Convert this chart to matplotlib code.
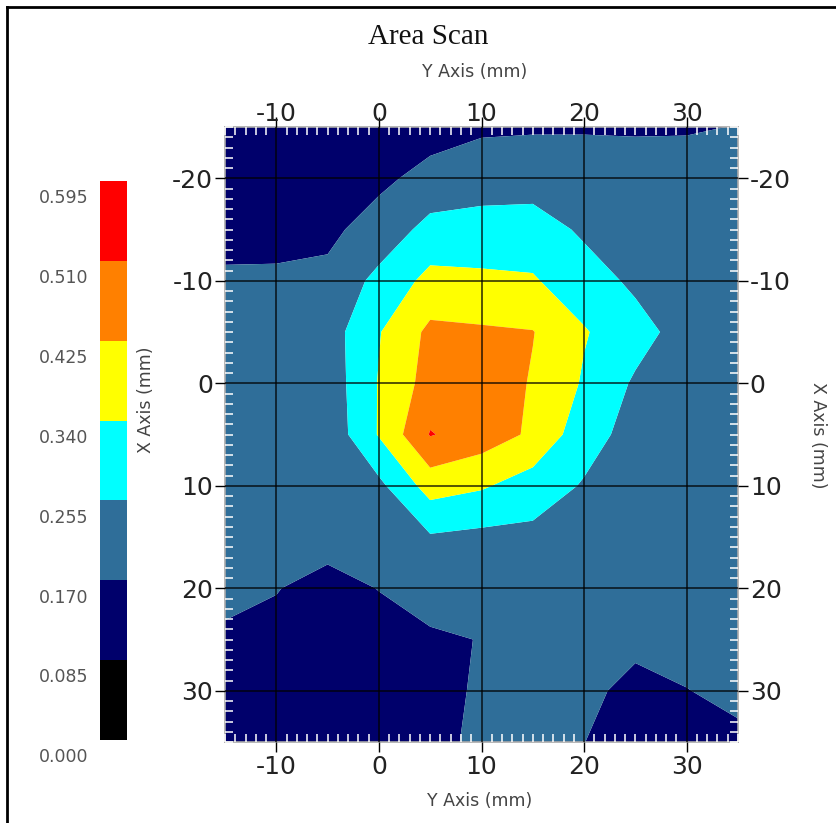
import numpy as np
import matplotlib

matplotlib.use("Agg")
import matplotlib.pyplot as plt
import matplotlib.transforms as mtransforms
from matplotlib.lines import Line2D
from matplotlib.ticker import MultipleLocator

plt.rcParams["axes.unicode_minus"] = False

# scan grid (mm); "Y Axis" runs horizontally, "X Axis" vertically
y_axis_mm = [-15, -10, -5, 0, 5, 10, 15, 20, 25, 30, 35]
x_axis_mm = [-25, -20, -15, -10, -5, 0, 5, 10, 15, 20, 25, 30, 35]

# measured values, one list per X Axis row
z_xm25 = [0.120, 0.120, 0.130, 0.130, 0.141, 0.162, 0.163, 0.163, 0.163, 0.164, 0.172]
z_xm20 = [0.130, 0.130, 0.140, 0.155, 0.1925, 0.200, 0.210, 0.210, 0.200, 0.200, 0.190]
z_xm15 = [0.150, 0.150, 0.155, 0.199, 0.284, 0.302, 0.300, 0.240, 0.215, 0.200, 0.190]
z_xm10 = [0.179, 0.180, 0.186, 0.280, 0.364, 0.352, 0.347, 0.298, 0.237, 0.210, 0.200]
z_xm05 = [0.190, 0.195, 0.214, 0.335, 0.444, 0.437, 0.428, 0.346, 0.290, 0.217, 0.200]
z_x00 = [0.185, 0.190, 0.204, 0.345, 0.459, 0.480, 0.4175, 0.331, 0.243, 0.220, 0.200]
z_x05 = [0.185, 0.190, 0.194, 0.346, 0.515, 0.470, 0.411, 0.289, 0.224, 0.210, 0.200]
z_x10 = [0.185, 0.190, 0.200, 0.235, 0.376, 0.350, 0.300, 0.248, 0.210, 0.200, 0.200]
z_x15 = [0.185, 0.190, 0.200, 0.210, 0.247, 0.234, 0.234, 0.220, 0.200, 0.200, 0.200]
z_x20 = [0.190, 0.173, 0.144, 0.172, 0.200, 0.200, 0.210, 0.210, 0.200, 0.200, 0.200]
z_x25 = [0.158, 0.150, 0.130, 0.140, 0.160, 0.172, 0.200, 0.200, 0.190, 0.200, 0.200]
z_x30 = [0.140, 0.130, 0.120, 0.140, 0.140, 0.182, 0.190, 0.190, 0.1465, 0.168, 0.190]
z_x35 = [0.130, 0.120, 0.120, 0.140, 0.140, 0.192, 0.185, 0.171, 0.130, 0.140, 0.153]

levels = [0.000, 0.085, 0.170, 0.255, 0.340, 0.425, 0.510, 0.595]
colors = ["#000000", "#00006b", "#2f6e99", "#00ffff", "#ffff00", "#ff8000", "#ff0000"]

Z = np.array([z_xm25, z_xm20, z_xm15, z_xm10, z_xm05, z_x00, z_x05,
              z_x10, z_x15, z_x20, z_x25, z_x30, z_x35])

fig = plt.figure(figsize=(8.37, 8.23), dpi=100)
W, H = 837.0, 823.0

# outer frame (only left/top edges visible in the crop)
fig.add_artist(Line2D([7 / W, 7 / W], [0, 1 - 7 / H], color="black", lw=2))
fig.add_artist(Line2D([7 / W, 1], [1 - 7 / H, 1 - 7 / H], color="black", lw=2))

ax = fig.add_axes([225 / W, 1 - 742 / H, 513 / W, 615 / H])
ax.contourf(y_axis_mm, x_axis_mm, Z, levels=levels, colors=colors, antialiased=True)
ax.set_xlim(-15, 35)
ax.set_ylim(35, -25)

ax.xaxis.set_major_locator(MultipleLocator(10))
ax.yaxis.set_major_locator(MultipleLocator(10))
ax.xaxis.set_minor_locator(MultipleLocator(1))
ax.yaxis.set_minor_locator(MultipleLocator(1))
ax.grid(True, which="major", color="black", lw=1.1, alpha=0.85)
ax.set_axisbelow(False)

ax.tick_params(which="major", direction="out", length=7.5, width=1, color="black",
               labelsize=18, labelcolor="#222222",
               top=True, bottom=True, left=True, right=True,
               labeltop=True, labelbottom=True, labelleft=True, labelright=True)
ax.tick_params(axis="x", which="major", pad=2)
ax.tick_params(axis="y", which="major", pad=1)
ax.tick_params(which="minor", direction="in", length=5.5, width=1.1, color="white",
               top=True, bottom=True, left=True, right=True)
for sp in ax.spines.values():
    sp.set_color("#aaaaaa")
    sp.set_linewidth(1.2)

# top labels sit over their tick marks
off_top = mtransforms.ScaledTranslation(0, -9 / 72, fig.dpi_scale_trans)
for t in ax.xaxis.get_major_ticks():
    t.label2.set_transform(t.label2.get_transform() + off_top)

# colour bar
cax = fig.add_axes([100 / W, 1 - 740 / H, 27 / W, 559 / H])
for i in range(len(colors)):
    cax.bar(0, levels[i + 1] - levels[i], bottom=levels[i], width=1, color=colors[i])
cax.set_xlim(-0.5, 0.5)
cax.set_ylim(levels[0], levels[-1])
cax.set_xticks([])
cax.set_yticks(levels)
cax.set_yticklabels([f"{v:.3f}" for v in levels])
cax.tick_params(axis="y", length=0, pad=8.5, labelsize=12.5, labelcolor="#555555")
for sp in cax.spines.values():
    sp.set_visible(False)
off_cb = mtransforms.ScaledTranslation(0, -11 / 72, fig.dpi_scale_trans)
for lab in cax.get_yticklabels():
    lab.set_transform(lab.get_transform() + off_cb)

fig.text(428 / W, 1 - 37 / H, "Area Scan", family="Liberation Serif", fontsize=21,
         ha="center", va="center", color="#111111")
fig.text(475 / W, 1 - 72 / H, "Y Axis (mm)", fontsize=12.5, ha="center", va="center",
         color="#444444")
fig.text(480 / W, 1 - 801 / H, "Y Axis (mm)", fontsize=12.5, ha="center", va="center",
         color="#444444")
fig.text(146 / W, 1 - 400 / H, "X Axis (mm)", fontsize=12.5, ha="center", va="center",
         rotation=90, color="#444444")
fig.text(818 / W, 1 - 435 / H, "X Axis (mm)", fontsize=12.5, ha="center", va="center",
         rotation=270, color="#444444")

fig.savefig("out.png", dpi=100)
